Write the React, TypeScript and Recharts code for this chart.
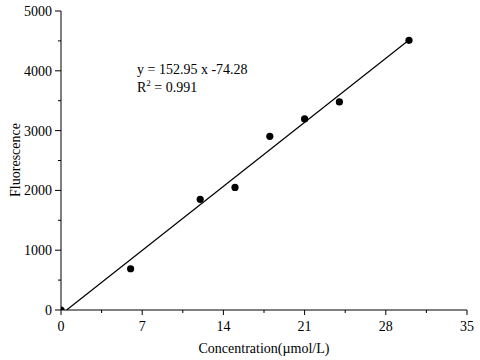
import React from 'react';
import { ComposedChart, Scatter, XAxis, YAxis, ReferenceLine } from 'recharts';

const concentration = [0, 6, 12, 15, 18, 21, 24, 30];
const fluorescence = [0, 690, 1850, 2050, 2905, 3195, 3480, 4510];
const xMajorTicks = [0, 7, 14, 21, 28, 35];
const xMinorTicks = [3.5, 10.5, 17.5, 24.5, 31.5];
const yMajorTicks = [0, 1000, 2000, 3000, 4000, 5000];
const yMinorTicks = [500, 1500, 2500, 3500, 4500];
const slope = 152.95;
const intercept = -74.28;
const fitEndX = 30;
const equationText = 'y = 152.95 x -74.28';
const r2Text = '0.991';
const xTitle = 'Concentration(µmol/L)';
const yTitle = 'Fluorescence';

const data = concentration.map((c, i) => ({ x: c, y: fluorescence[i] }));
const FONT = '"Liberation Serif", "Times New Roman", serif';

const XTick = (props: any) => {
  const { x, y, payload } = props;
  const major = xMajorTicks.includes(payload.value);
  return (
    <g>
      <line x1={x} x2={x} y1={y} y2={y + (major ? 5 : 3)} stroke="#000" strokeWidth={1} />
      {major && (
        <text x={x} y={y + 21} textAnchor="middle" fontSize={14} fill="#000" fontFamily={FONT}>
          {payload.value}
        </text>
      )}
    </g>
  );
};

const YTick = (props: any) => {
  const { x, y, payload } = props;
  const major = yMajorTicks.includes(payload.value);
  return (
    <g>
      <line x1={x} x2={x - (major ? 6 : 3)} y1={y} y2={y} stroke="#000" strokeWidth={1} />
      {major && (
        <text x={x - 9} y={y + 5} textAnchor="end" fontSize={14} fill="#000" fontFamily={FONT}>
          {payload.value}
        </text>
      )}
    </g>
  );
};

const Dot = (p: any) => (
  <g>
    <defs>
      <clipPath id="plotClip">
        <rect x={61} y={11} width={406} height={299} />
      </clipPath>
    </defs>
    <circle cx={p.cx} cy={p.cy} r={3.6} fill="#000" clipPath="url(#plotClip)" />
  </g>
);

export default function App() {
  const xTicks = [...xMajorTicks, ...xMinorTicks].sort((a, b) => a - b);
  const yTicks = [...yMajorTicks, ...yMinorTicks].sort((a, b) => a - b);
  const x0 = -intercept / slope;
  return (
    <div style={{ position: 'absolute', left: 0, top: 0, width: 480, height: 360, background: '#fff' }}>
      <ComposedChart
        width={480}
        height={360}
        data={data}
        margin={{ top: 11, right: 13, left: 0, bottom: 0 }}
      >
        <XAxis
          type="number"
          dataKey="x"
          domain={[0, 35]}
          ticks={xTicks}
          interval={0}
          tickSize={0}
          tickMargin={0}
          tickLine={false}
          tick={<XTick />}
          height={50}
          axisLine={{ stroke: '#000', strokeWidth: 1 }}
        />
        <YAxis
          type="number"
          dataKey="y"
          domain={[0, 5000]}
          ticks={yTicks}
          interval={0}
          tickSize={0}
          tickMargin={0}
          tickLine={false}
          tick={<YTick />}
          width={61}
          axisLine={{ stroke: '#000', strokeWidth: 1 }}
        />
        <ReferenceLine
          segment={[
            { x: x0, y: 0 },
            { x: fitEndX, y: slope * fitEndX + intercept },
          ]}
          stroke="#000"
          strokeWidth={1.2}
        />
        <Scatter dataKey="y" fill="#000" isAnimationActive={false} shape={Dot} />
      </ComposedChart>
      <svg width={480} height={360} style={{ position: 'absolute', left: 0, top: 0, pointerEvents: 'none' }}>
        <text x={137} y={74} fontSize={14} fontFamily={FONT} fill="#000">{equationText}</text>
        <text x={137} y={92} fontSize={14} fontFamily={FONT} fill="#000">
          R<tspan fontSize={9} dy={-6}>2</tspan><tspan dy={6}>{' = ' + r2Text}</tspan>
        </text>
        <text x={264} y={353} fontSize={14} fontFamily={FONT} fill="#000" textAnchor="middle">{xTitle}</text>
        <text x={20} y={160} fontSize={14} fontFamily={FONT} fill="#000" textAnchor="middle" transform="rotate(-90 20 160)">{yTitle}</text>
      </svg>
    </div>
  );
}
